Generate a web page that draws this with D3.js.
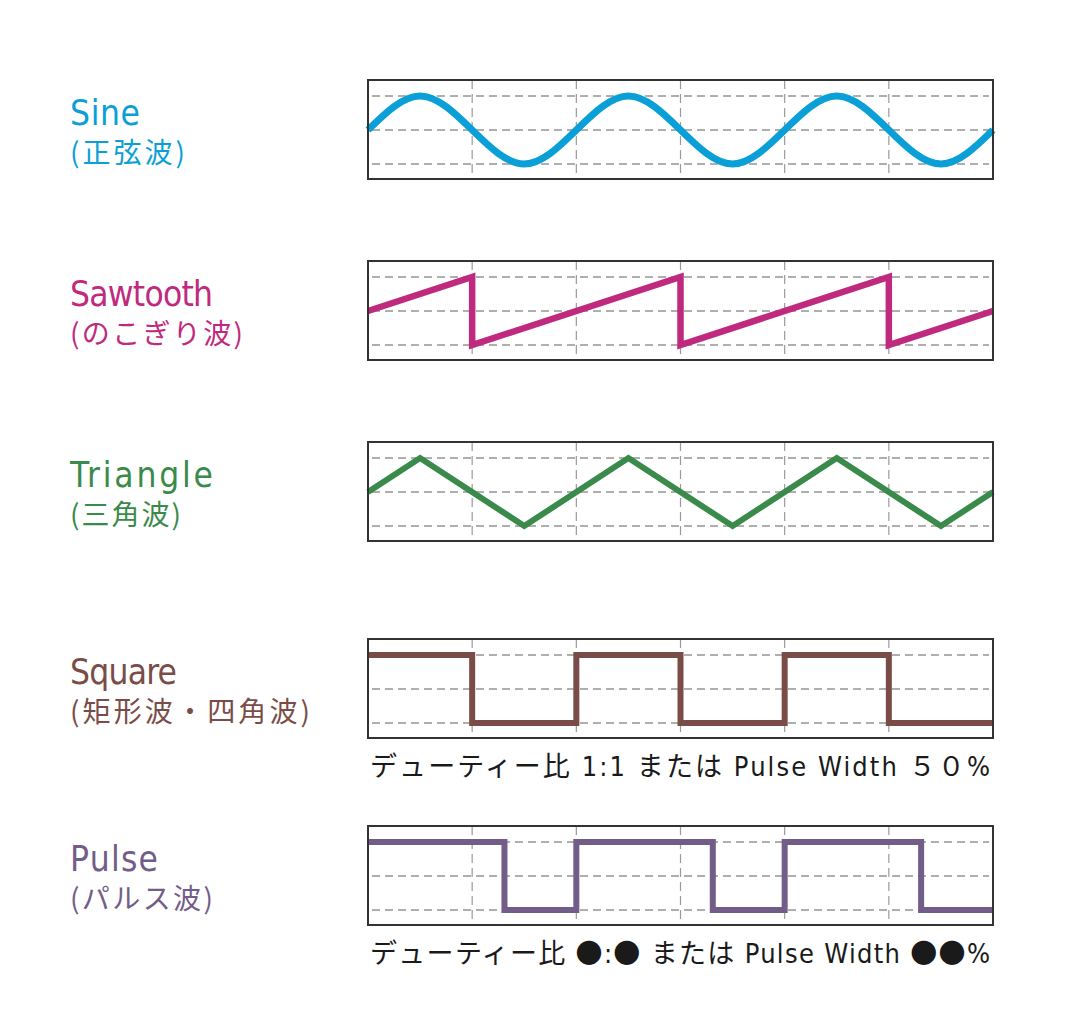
<!DOCTYPE html>
<html>
<head>
<meta charset="utf-8">
<script src="https://cdn.jsdelivr.net/npm/d3@7"></script>
<style>
  body { margin: 0; background: #fff; }
  .latin { font-family: "DejaVu Sans", sans-serif; font-stretch: condensed; }
  .cjk { font-family: "Noto Sans CJK JP", sans-serif; }
</style>
</head>
<body>
<div id="chart"></div>
<script>
// wave names and their japanese subtitles
const waveNames = ['Sine', 'Sawtooth', 'Triangle', 'Square', 'Pulse'];
const waveSubtitles = ['(正弦波)', '(のこぎり波)', '(三角波)', '(矩形波・四角波)', '(パルス波)'];
const waveColors = ['#0aa0d7', '#c02a7e', '#3a8a4b', '#7a4c48', '#725d88'];

// points: [x in grid divisions, level -1..1]
const sinePoints = [[0, 0], [0.5, 1], [1, 0], [1.5, -1], [2, 0], [2.5, 1], [3, 0], [3.5, -1], [4, 0], [4.5, 1], [5, 0], [5.5, -1], [6, 0]];
const sawtoothPoints = [[0, 0], [1, 1], [1, -1], [3, 1], [3, -1], [5, 1], [5, -1], [6, 0]];
const trianglePoints = [[0, 0], [0.5, 1], [1.5, -1], [2.5, 1], [3.5, -1], [4.5, 1], [5.5, -1], [6, 0]];
const squarePoints = [[0, 1], [1, 1], [1, -1], [2, -1], [2, 1], [3, 1], [3, -1], [4, -1], [4, 1], [5, 1], [5, -1], [6, -1]];
const pulsePoints = [[0, 1], [1.31, 1], [1.31, -1], [2, -1], [2, 1], [3.31, 1], [3.31, -1], [4, -1], [4, 1], [5.31, 1], [5.31, -1], [6, -1]];

// captions under the square and pulse panels
const captions = ['デューティー比 1:1 または Pulse Width ５０%', 'デューティー比 ●:● または Pulse Width ●●%'];

const xTicks = [0, 1, 2, 3, 4, 5, 6];
const yTicks = [-1, 0, 1];

const width = 1074, height = 1034;
const panelLeft = 368, panelRight = 993, panelHeight = 99;
const panelTops = [80, 261, 442, 639, 826];
const labelWidths = [[70, 115], [143, 173], [143, 111], [107, 240], [88, 143]];
const strokeWidths = [7, 6.5, 6, 6, 6];
const captionPanel = [3, 4];

const waves = [sinePoints, sawtoothPoints, trianglePoints, squarePoints, pulsePoints];
const curves = [d3.curveNatural, d3.curveLinear, d3.curveLinear, d3.curveLinear, d3.curveLinear];

const svg = d3.select('#chart')
    .append('svg')
    .attr('width', width)
    .attr('height', height);

const xScale = d3.scaleLinear()
    .domain([0, 6])
    .range([panelLeft, panelRight]);

waves.forEach((points, i) => {
    const top = panelTops[i];
    const yScale = d3.scaleLinear()
        .domain([-1, 1])
        .range([top + 84, top + 16]);

    const g = svg.append('g').attr('class', 'panel');

    // horizontal dashed grid
    g.selectAll('.h-grid')
        .data(yTicks)
        .enter()
        .append('line')
        .attr('class', 'h-grid')
        .attr('x1', panelLeft + 4)
        .attr('x2', panelRight - 4)
        .attr('y1', d => yScale(d))
        .attr('y2', d => yScale(d))
        .attr('stroke', '#5e5e5e')
        .attr('stroke-width', 1)
        .attr('stroke-dasharray', '8,5');

    // vertical dashed grid
    g.selectAll('.v-grid')
        .data(xTicks.slice(1, -1))
        .enter()
        .append('line')
        .attr('class', 'v-grid')
        .attr('x1', d => xScale(d))
        .attr('x2', d => xScale(d))
        .attr('y1', top)
        .attr('y2', top + panelHeight)
        .attr('stroke', '#9a9a9a')
        .attr('stroke-width', 1.2)
        .attr('stroke-dasharray', '9,5');

    // wave
    const line = d3.line()
        .x(d => xScale(d[0]))
        .y(d => yScale(d[1]))
        .curve(curves[i]);

    g.append('path')
        .datum(points)
        .attr('d', line)
        .attr('fill', 'none')
        .attr('stroke', waveColors[i])
        .attr('stroke-width', strokeWidths[i])
        .attr('stroke-linejoin', 'miter')
        .attr('stroke-linecap', 'butt');

    // frame
    g.append('rect')
        .attr('x', panelLeft)
        .attr('y', top)
        .attr('width', panelRight - panelLeft)
        .attr('height', panelHeight)
        .attr('fill', 'none')
        .attr('stroke', '#333')
        .attr('stroke-width', 2);

    // name + subtitle on the left
    svg.append('text')
        .attr('class', 'latin')
        .attr('x', 70)
        .attr('y', top + 45)
        .attr('font-size', 35)
        .attr('textLength', labelWidths[i][0])
        .attr('lengthAdjust', 'spacing')
        .attr('fill', waveColors[i])
        .text(waveNames[i]);

    svg.append('text')
        .attr('class', 'cjk')
        .attr('x', 70)
        .attr('y', top + 83)
        .attr('font-size', 28)
        .attr('textLength', labelWidths[i][1])
        .attr('lengthAdjust', 'spacing')
        .attr('fill', waveColors[i])
        .text(waveSubtitles[i]);
});

// duty cycle captions, latin runs in the condensed face
captions.forEach((c, i) => {
    const top = panelTops[captionPanel[i]];
    const t = svg.append('text')
        .attr('x', 370)
        .attr('y', top + panelHeight + 38)
        .attr('font-size', 27)
        .attr('fill', '#1a1a1a')
        .attr('textLength', 620)
        .attr('lengthAdjust', 'spacing');
    c.split(/([ -~]+)/).filter(s => s.length).forEach(part => {
        const latin = /^[ -~]+$/.test(part);
        t.append('tspan')
            .attr('class', latin ? 'latin' : 'cjk')
            .text(part);
    });
});
</script>
</body>
</html>
